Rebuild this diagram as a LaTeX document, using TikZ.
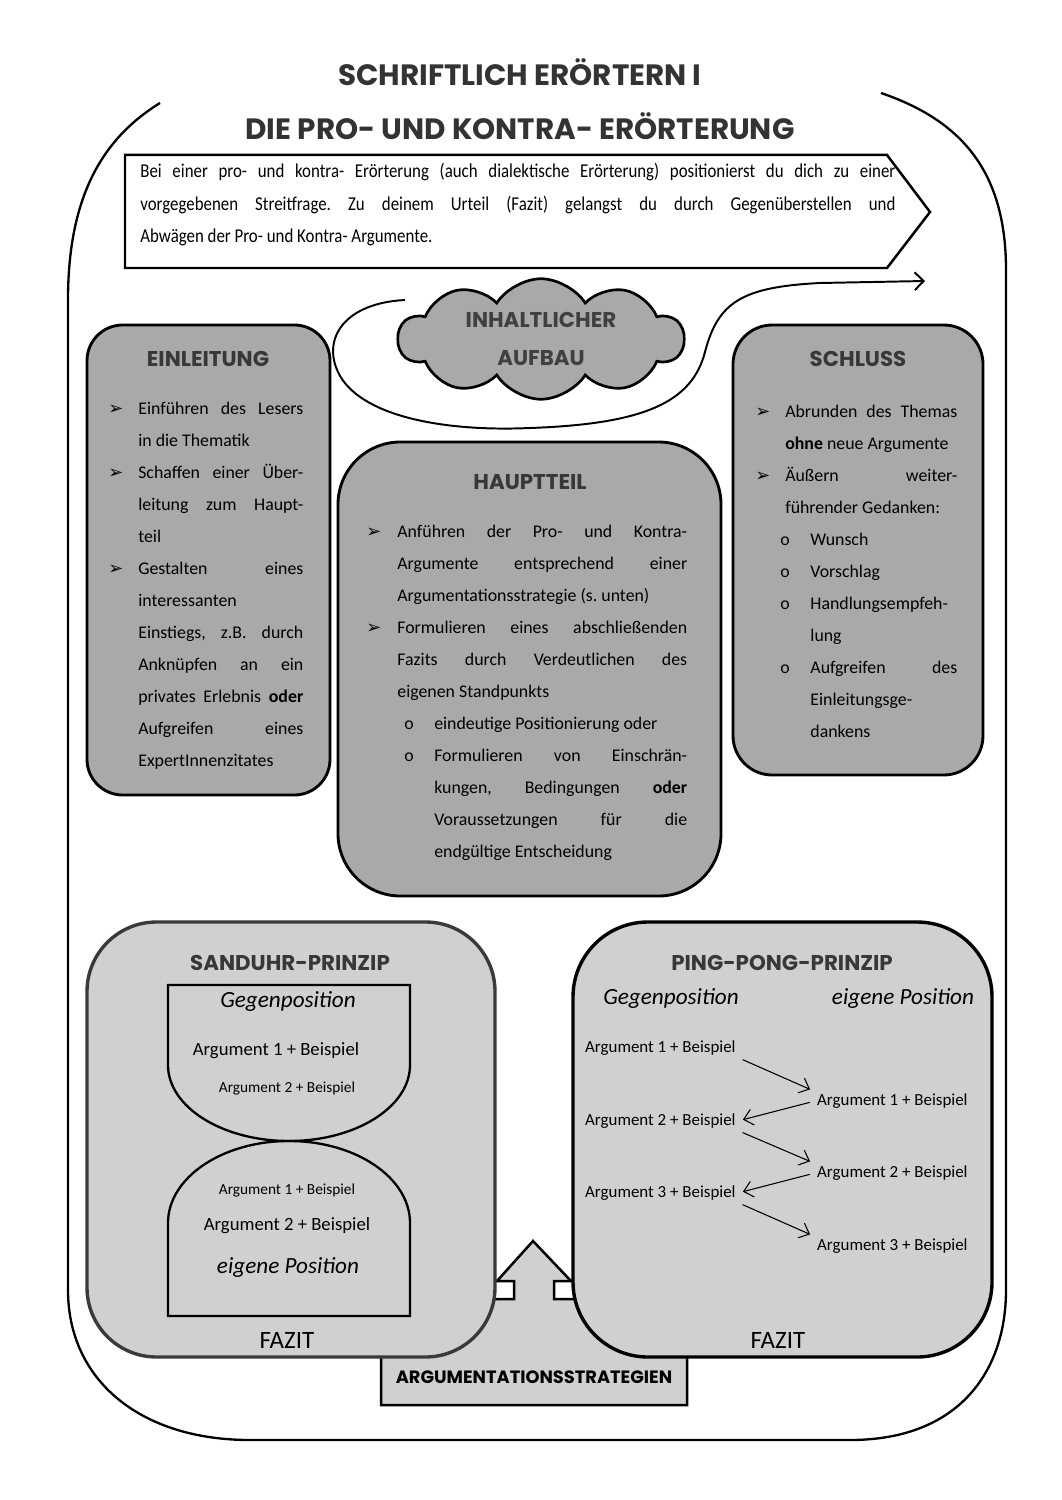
\documentclass[tikz,border=0pt]{standalone}
\usepackage{fontspec}
\setmainfont{Carlito}
\newfontfamily\headfont{Poppins}
\newfontfamily\introfont[FakeStretch=0.86]{Carlito}
\newfontfamily\symfont{DejaVu Sans}
\usetikzlibrary{arrows.meta, positioning, shapes.symbols}

\definecolor{boxgray}{HTML}{A9A9A9}
\definecolor{palegray}{HTML}{D1D0D1}
\definecolor{edgegray}{HTML}{3A3A3A}

% list helpers for the boxes
\newlength\bulind
\newlength\subpos
\newlength\subgap
\newlength\subind
\newcommand{\parset}{\tolerance=10000 \hyphenpenalty=10000 \frenchspacing}
\newcommand{\arrbul}{{\symfont\fontsize{10}{10}\selectfont ➢}}
\newcommand{\Item}[1]{\noindent\hangindent=\bulind\hangafter=1\makebox[\bulind][l]{\arrbul}#1\par}
\newcommand{\Sub}[1]{\noindent\hangindent=\subind\hangafter=1\hspace*{\subpos}\makebox[\subgap][l]{o}#1\par}

\begin{document}
\begin{tikzpicture}[x=0.561pt, y=-0.561pt,
  outerframe/.style={line width=1.3pt},
  topbox/.style={draw, line width=1.6pt, fill=boxgray},
  lowbox/.style={draw, line width=1.9pt, fill=palegray},
  stratshape/.style={draw, line width=1.4pt, fill=palegray},
  glass/.style={draw, line width=1.3pt},
  titletext/.style={font=\headfont\bfseries\fontsize{16.5}{18}\selectfont, text=black!80, inner sep=0pt},
  boxhead/.style={font=\headfont\bfseries\fontsize{12}{14}\selectfont, text=black!78, inner sep=0pt},
  boxbody/.style={anchor=base west, inner sep=0pt, align=justify, font=\fontsize{10}{18}\selectfont\parset},
  argtext/.style={inner sep=1pt, font=\fontsize{9.5}{11}\selectfont},
  sidelabel/.style={inner sep=0pt, font=\itshape\fontsize{13}{15}\selectfont},
  fazit/.style={inner sep=0pt, font=\fontsize{14}{16}\selectfont},
  pparrow/.style={-{Straight Barb[length=5pt,width=9pt]}, line width=0.6pt, shorten <=3pt, shorten >=3pt},
  looparrow/.style={-{Straight Barb[length=5pt,width=10pt]}, line width=1.1pt}
]
\fill[white] (0,0) rectangle (1061,1500);
\useasboundingbox (0,0) rectangle (1061,1500);

% outer frame
\draw[outerframe] (160,103) .. controls (100,140) and (68,200) .. (68,300) -- (68,1290)
  .. controls (68,1380) and (140,1440) .. (250,1440) -- (850,1440)
  .. controls (960,1440) and (1006,1370) .. (1006,1290) -- (1006,270)
  .. controls (1006,170) and (960,120) .. (881,93);

% title
\node[titletext] (title1) at (520,72) {SCHRIFTLICH ERÖRTERN I};
\node[titletext] (title2) at (520,126) {DIE PRO- UND KONTRA- ERÖRTERUNG};

% intro arrow box
\draw[line width=1.4pt] (125,155) -- (887,155) -- (930,212) -- (887,268) -- (125,268) -- cycle;
\node[boxbody, text width=423.6pt, font=\introfont\fontsize{11}{18}\selectfont\parset] (intro) at (140,178)
  {Bei einer pro- und kontra- Erörterung (auch dialektische Erörterung) positionierst du dich zu einer\linebreak
   vorgegebenen Streitfrage. Zu deinem Urteil (Fazit) gelangst du durch Gegenüberstellen und\linebreak
   Abwägen der Pro- und Kontra- Argumente.};

% cloud with loop
\node[cloud, draw, fill=boxgray, line width=1.5pt, cloud puffs=10, cloud puff arc=115, aspect=2.4,
  minimum width=160pt, minimum height=64pt, inner sep=0pt, align=center,
  font=\headfont\bfseries\fontsize{12}{21}\selectfont, text=black!75] (cloud) at (541,339) {INHALTLICHER\\AUFBAU};
\coordinate (loopstart) at (405,300);
\coordinate (loopend) at (925,281);
\draw[looparrow] (loopstart) .. controls (345,303) and (322,338) .. (338,372)
  .. controls (358,415) and (440,432) .. (530,428) .. controls (645,424) and (692,402) .. (705,352)
  .. controls (718,302) and (742,287) .. (820,283) -- (loopend);

% Einleitung
\draw[topbox, rounded corners=20pt] (87,325) rectangle (330,795);
\node[boxhead] (einlhead) at (208,359) {EINLEITUNG};
\node[boxbody, text width=109.4pt] (einltext) at (108,414) {%
  \setlength\bulind{16.8pt}%
  \Item{Einführen des Lesers\linebreak in die Thematik}%
  \Item{Schaffen einer Über-\linebreak leitung zum Haupt-\linebreak teil}%
  \Item{Gestalten eines\linebreak interessanten\linebreak Einstiegs, z.B. durch\linebreak Anknüpfen an ein\linebreak
    privates Erlebnis \textbf{oder}\linebreak Aufgreifen eines\linebreak ExpertInnenzitates}};

% Hauptteil
\draw[topbox, rounded corners=35pt] (338,442) rectangle (721,896);
\node[boxhead] (haupthead) at (530,482) {HAUPTTEIL};
\node[boxbody, text width=180pt] (haupttext) at (366,537) {%
  \setlength\bulind{17.4pt}\setlength\subpos{21.3pt}\setlength\subgap{16.8pt}\setlength\subind{38.1pt}%
  \Item{Anführen der Pro- und Kontra-\linebreak Argumente entsprechend einer\linebreak Argumentationsstrategie (s. unten)}%
  \Item{Formulieren eines abschließenden\linebreak Fazits durch Verdeutlichen des\linebreak eigenen Standpunkts}%
  \Sub{eindeutige Positionierung oder}%
  \Sub{Formulieren von Einschrän-\linebreak kungen, Bedingungen \textbf{oder}\linebreak Voraussetzungen für die\linebreak endgültige Entscheidung}};

% Schluss
\draw[topbox, rounded corners=22pt] (733,325) rectangle (983,775);
\node[boxhead] (schlhead) at (858,359) {SCHLUSS};
\node[boxbody, text width=113.3pt] (schltext) at (755,417) {%
  \setlength\bulind{16.8pt}\setlength\subpos{14pt}\setlength\subgap{16.9pt}\setlength\subind{30.9pt}%
  \Item{Abrunden des Themas\linebreak \textbf{ohne} neue Argumente}%
  \Item{Äußern weiter-\linebreak führender Gedanken:}%
  \Sub{Wunsch}%
  \Sub{Vorschlag}%
  \Sub{Handlungsempfeh-\linebreak lung}%
  \Sub{Aufgreifen des\linebreak Einleitungsge-\linebreak dankens}};

% Argumentationsstrategien
\draw[stratshape] (381,1405) -- (381,1299) -- (514,1299) -- (514,1281) -- (497,1281) -- (533,1241)
  -- (571,1281) -- (554,1281) -- (554,1299) -- (687,1299) -- (687,1405) -- cycle;
\node[font=\headfont\bfseries\fontsize{10}{12}\selectfont, inner sep=0pt] (strattext) at (534,1377) {ARGUMENTATIONSSTRATEGIEN};

% Sanduhr-Prinzip
\draw[lowbox, draw=edgegray, rounded corners=39pt] (87,922) rectangle (495,1357);
\node[boxhead] (sandhead) at (290,963) {SANDUHR-PRINZIP};
\draw[glass] (168,985) -- (410,985) -- (410,1065) arc[start angle=0, end angle=180, x radius=121, y radius=76] -- cycle;
\draw[glass] (168,1316) -- (168,1223) arc[start angle=180, end angle=360, x radius=121, y radius=82] -- (410,1316) -- cycle;
\node[sidelabel] (sgegen) at (288,1001) {Gegenposition};
\node[inner sep=0pt, font=\fontsize{10.5}{12}\selectfont] (sa1) at (276,1051) {Argument 1 + Beispiel};
\node[inner sep=0pt, font=\fontsize{8.6}{10}\selectfont] (sa2) at (287,1088) {Argument 2 + Beispiel};
\node[inner sep=0pt, font=\fontsize{8.6}{10}\selectfont] (sb1) at (287,1190) {Argument 1 + Beispiel};
\node[inner sep=0pt, font=\fontsize{10.5}{12}\selectfont] (sb2) at (287,1226) {Argument 2 + Beispiel};
\node[sidelabel] (seigen) at (288,1267) {eigene Position};
\node[fazit] (sfazit) at (287,1340) {FAZIT};

% Ping-Pong-Prinzip
\draw[lowbox, rounded corners=42pt] (573,922) rectangle (992,1357);
\node[boxhead] (pinghead) at (782,963) {PING-PONG-PRINZIP};
\node[sidelabel] (pgegen) at (671,998) {Gegenposition};
\node[sidelabel] (peigen) at (903,998) {eigene Position};
\node[argtext, anchor=west] (L1) at (583,1048) {Argument 1 + Beispiel};
\node[argtext, anchor=west] (L2) at (583,1121) {Argument 2 + Beispiel};
\node[argtext, anchor=west] (L3) at (583,1193) {Argument 3 + Beispiel};
\node[argtext, anchor=west] (R1) at (815,1101) {Argument 1 + Beispiel};
\node[argtext, anchor=west] (R2) at (815,1173) {Argument 2 + Beispiel};
\node[argtext, anchor=west] (R3) at (815,1246) {Argument 3 + Beispiel};
\foreach \a/\b in {L1/R1, L2/R2, L3/R3}
  \draw[pparrow] (\a.south east) -- (\b.north west);
\foreach \a/\b in {R1/L2, R2/L3}
  \draw[pparrow] (\a.west) -- (\b.east);
\node[fazit] (pfazit) at (778,1340) {FAZIT};
\end{tikzpicture}
\end{document}
